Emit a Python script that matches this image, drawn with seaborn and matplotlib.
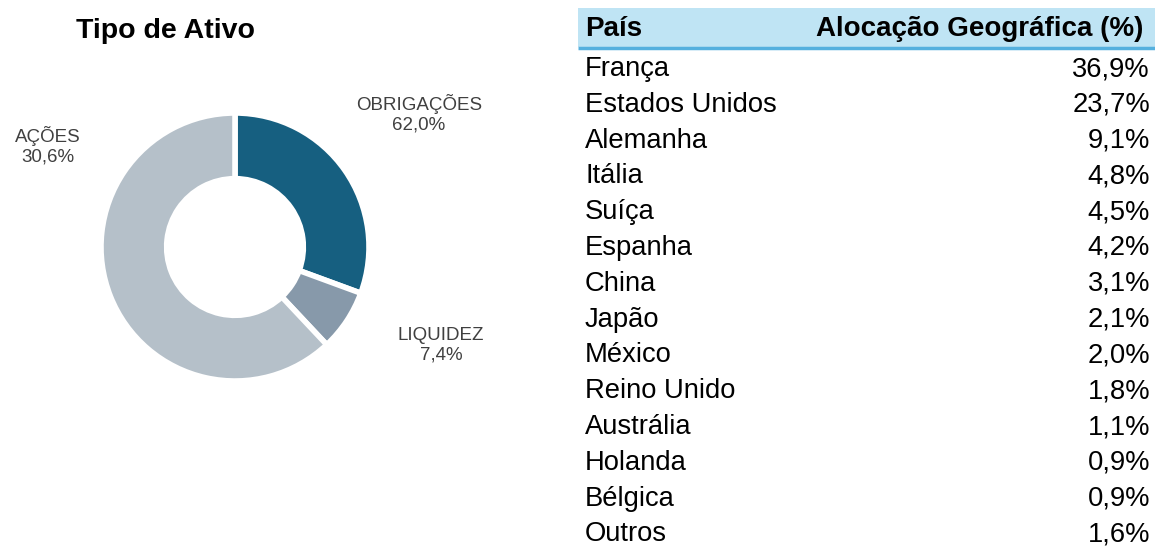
import matplotlib
matplotlib.use("Agg")
import matplotlib.pyplot as plt
import seaborn as sns
from matplotlib.patches import Rectangle

# --- Data ---
slice_values = [30.6, 7.4, 62.0]
slice_labels = ["OBRIGAÇÕES\n62,0%", "LIQUIDEZ\n7,4%", "AÇÕES\n30,6%"]
slice_colors = ["#165f80", "#8799aa", "#b5c0c9"]

countries = [
    "França", "Estados Unidos", "Alemanha", "Itália", "Suíça", "Espanha",
    "China", "Japão", "México", "Reino Unido", "Austrália", "Holanda",
    "Bélgica", "Outros",
]
allocation = [36.9, 23.7, 9.1, 4.8, 4.5, 4.2, 3.1, 2.1, 2.0, 1.8, 1.1, 0.9, 0.9, 1.6]

sns.set_theme(style="white")
plt.rcParams["font.family"] = ["Liberation Sans", "DejaVu Sans"]
plt.rcParams["text.color"] = "black"

W, H = 1155, 547
fig = plt.figure(figsize=(W / 100, H / 100), dpi=100)
fig.patch.set_facecolor("white")

# background axes in pixel coordinates
ax = fig.add_axes([0, 0, 1, 1])
ax.set_xlim(0, W)
ax.set_ylim(H, 0)
ax.axis("off")

# --- Donut ---
cx, cy, r = 235, 247, 134
half = 150
pie_ax = fig.add_axes([(cx - half) / W, (H - cy - half) / H, 2 * half / W, 2 * half / H])
pie_ax.pie(
    slice_values,
    colors=slice_colors,
    startangle=90,
    counterclock=False,
    wedgeprops=dict(width=0.49, edgecolor="white", linewidth=4),
)
pie_ax.set_xlim(-half / r, half / r)
pie_ax.set_ylim(-half / r, half / r)
pie_ax.set_aspect("equal")
pie_ax.axis("off")

ax.text(166, 31, "Tipo de Ativo", fontsize=20.5, fontweight="bold",
        ha="center", va="center", color="black")

label_pos = [(419, 114), (441, 345), (48, 146)]
for (lx, ly), lab in zip(label_pos, slice_labels):
    ax.text(lx, ly, lab, fontsize=13.5, ha="center", va="center",
            color="#404040", linespacing=1.2)

# --- Table ---
ax.add_patch(Rectangle((578, 8), W - 578, 39, facecolor="#bfe4f4", edgecolor="none"))
ax.plot([578, W], [47.5, 47.5], color="#55b0de", lw=2.5, solid_capstyle="butt")
ax.text(585, 29, "País", fontsize=20, fontweight="bold", ha="left", va="center",
        color="black")
ax.text(1143, 29, "Alocação Geográfica (%)", fontsize=20, fontweight="bold",
        ha="right", va="center", color="black")

y0, step = 69, 35.8
for i, (c, v) in enumerate(zip(countries, allocation)):
    y = y0 + i * step
    ax.text(585, y, c, fontsize=19.7, ha="left", va="center", color="black")
    ax.text(1150, y, f"{v:.1f}%".replace(".", ","), fontsize=19.7,
            ha="right", va="center", color="black")

fig.savefig("out.png", dpi=100)
